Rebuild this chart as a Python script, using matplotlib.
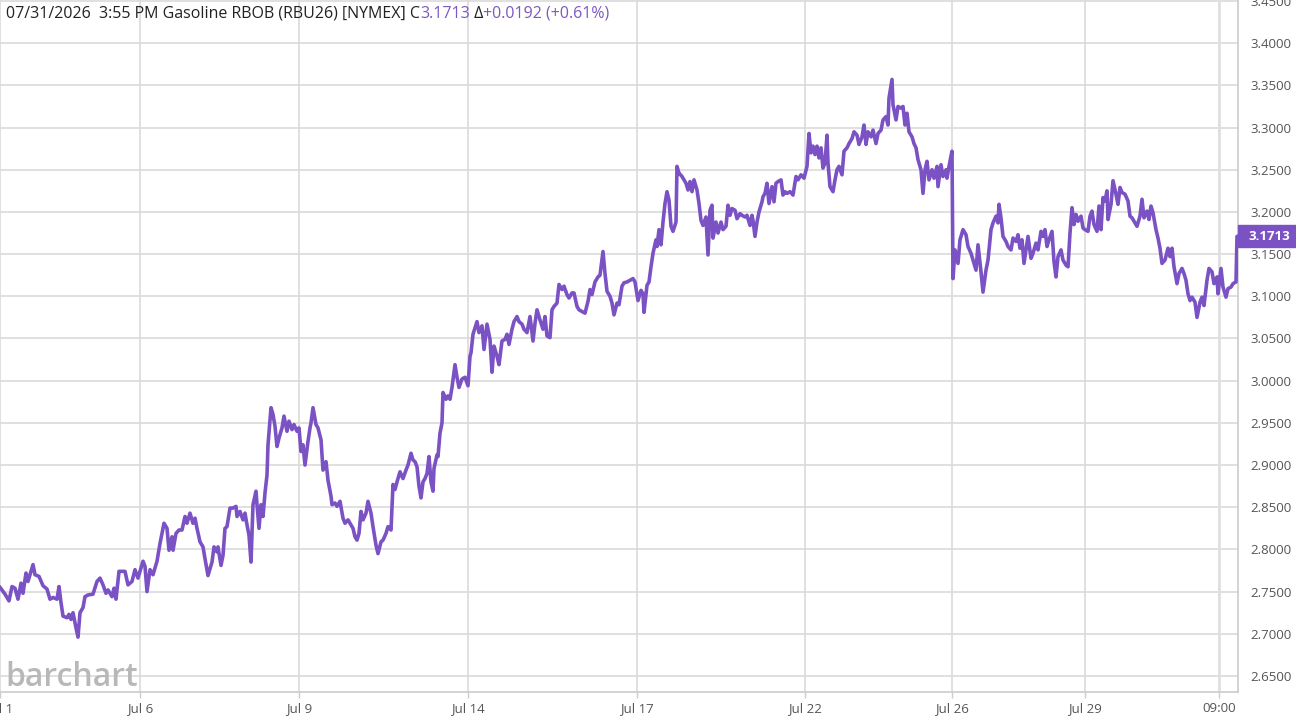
# Gasoline RBOB (RBU26) intraday chart, barchart style

import numpy as np
import matplotlib
matplotlib.use("Agg")
import matplotlib.pyplot as plt
from matplotlib.patches import Rectangle
from matplotlib.transforms import blended_transform_factory


# -------------------------------
# Data
# -------------------------------

# bar index on a compressed session axis (gaps removed, as barchart does)
bar = [
    0, 5, 9, 12, 15, 18, 21, 23, 26, 28, 33, 35, 39, 43, 47, 50, 53, 57, 59, 61,
    63, 67, 69, 71, 73, 76, 78, 80, 83, 85, 88, 93, 97, 100, 103, 106, 108, 112, 114, 116,
    119, 122, 125, 128, 132, 135, 138, 143, 145, 147, 150, 153, 157, 160,
    161, 164, 167, 169, 172, 173, 176, 179, 182, 185, 187, 190, 193, 195, 197, 200,
    203, 205, 208, 212, 214, 217, 218, 221, 223, 225, 227, 230, 233, 236, 237, 240,
    243, 245, 247, 249, 251, 253, 256, 257, 259, 261, 263, 265, 267, 268, 271, 273,
    275, 277, 279, 282, 284, 287, 289, 292, 294, 297, 299, 301, 303, 305, 308, 310,
    311, 313, 316, 318, 321, 323, 326, 328, 331, 332, 335, 337, 340, 343, 345, 348,
    350, 353, 355, 357, 359, 361, 363, 366, 368, 371, 373, 376, 378, 381, 383, 386,
    388, 391, 393, 395, 397, 400, 403, 406, 408, 411, 413, 415, 417, 419, 421, 423,
    425, 427, 429, 431, 433, 434, 437, 438, 440, 442, 443, 446, 448, 450, 452, 455,
    457, 459, 462, 465, 468, 470,
    471, 473, 477, 479, 482, 484, 487, 490, 492, 494, 497, 499, 502, 505, 507, 509,
    512, 514, 517, 519, 522, 524, 527, 530, 533, 535, 537, 540, 543, 545, 547, 550,
    552, 554, 557, 559, 562, 564, 567, 569, 572, 574, 577, 579, 582, 585, 588, 590,
    592, 595, 598, 600, 603, 605, 607, 610, 612, 614, 617, 619, 622, 624, 627, 630,
    633, 635,
    638, 641, 643, 644, 647, 649, 651, 653, 656, 657, 659, 661, 663, 665, 667, 669,
    671, 673, 676, 677, 679, 682, 684, 686, 688, 690, 692, 694, 697, 699, 701, 703,
    706, 708, 710, 712, 713, 716, 718, 721, 723, 726, 728, 730, 732, 735, 737, 740,
    742, 745, 747, 750, 752, 753, 755, 757, 759, 762, 763, 765, 767, 769, 772, 774,
    776, 778, 781, 783, 785, 787, 790,
    793, 796, 798, 801, 804, 807, 809, 811, 813, 815, 817, 819, 821, 823, 825, 827,
    828, 830, 833, 835, 837, 839, 842, 844, 847, 849, 852, 854, 857, 859, 862, 864,
    866, 868, 871, 873, 876, 878, 881, 883, 886, 888, 889, 892, 893, 896, 898, 901,
    903, 905, 907, 909, 912, 914, 916, 918, 921, 923, 925, 927, 929, 932, 934, 937,
    938, 941, 943, 946, 947, 949, 952, 953,
    955, 958, 960, 963, 966, 968, 971, 973, 976, 978, 981, 983, 986, 988, 991, 993,
    996, 998, 999, 1001, 1003, 1006, 1008, 1011, 1013, 1016, 1018, 1020, 1022, 1024, 1027, 1028,
    1031, 1033, 1036, 1038, 1041, 1043, 1045, 1047, 1049, 1052, 1054, 1056, 1058, 1061, 1063, 1066,
    1068, 1070, 1072, 1074, 1076, 1078, 1081, 1083,
    1085, 1088, 1090, 1092, 1094, 1097, 1099, 1101, 1103, 1105, 1107, 1108, 1111, 1113, 1116, 1118,
    1120, 1122, 1125, 1128, 1130, 1132, 1135, 1137, 1140, 1142, 1144, 1147, 1149, 1151, 1153, 1156,
    1158, 1160, 1162, 1165, 1168, 1170, 1172, 1174, 1177, 1179, 1182, 1184, 1186, 1188, 1190, 1192,
    1195, 1197, 1200, 1202, 1204, 1207, 1209, 1212, 1214, 1217, 1218, 1221, 1223, 1226, 1228, 1231,
    1233, 1236, 1237, 1238,
]

price = [
    2.755, 2.747, 2.739, 2.756, 2.754, 2.741, 2.760, 2.748, 2.772, 2.762, 2.782, 2.770, 2.768, 2.757, 2.753, 2.741, 2.743, 2.741, 2.756, 2.737,
    2.721, 2.719, 2.723, 2.717, 2.725, 2.707, 2.696, 2.725, 2.731, 2.744, 2.746, 2.747, 2.762, 2.766, 2.758, 2.748, 2.752, 2.744, 2.754, 2.741,
    2.774, 2.774, 2.774, 2.758, 2.762, 2.776, 2.766, 2.786, 2.780, 2.750, 2.776, 2.770, 2.786, 2.807,
    2.813, 2.831, 2.825, 2.799, 2.815, 2.799, 2.819, 2.823, 2.823, 2.839, 2.831, 2.843, 2.831, 2.837, 2.825, 2.809,
    2.803, 2.789, 2.769, 2.785, 2.803, 2.797, 2.803, 2.781, 2.793, 2.825, 2.827, 2.849, 2.849, 2.851, 2.839, 2.845,
    2.835, 2.843, 2.829, 2.817, 2.785, 2.853, 2.869, 2.853, 2.825, 2.853, 2.839, 2.867, 2.888, 2.924, 2.968, 2.960,
    2.946, 2.922, 2.932, 2.944, 2.958, 2.940, 2.952, 2.942, 2.948, 2.940, 2.944, 2.916, 2.924, 2.900, 2.928, 2.944,
    2.950, 2.968, 2.948, 2.944, 2.930, 2.894, 2.904, 2.882, 2.863, 2.853, 2.855, 2.851, 2.857, 2.837, 2.831, 2.835,
    2.831, 2.825, 2.815, 2.811, 2.819, 2.845, 2.835, 2.843, 2.857, 2.843, 2.827, 2.805, 2.795, 2.809, 2.811, 2.819,
    2.827, 2.823, 2.877, 2.871, 2.880, 2.892, 2.884, 2.894, 2.900, 2.914, 2.906, 2.904, 2.898, 2.875, 2.861, 2.880,
    2.884, 2.890, 2.910, 2.880, 2.869, 2.896, 2.912, 2.910, 2.938, 2.950, 2.986, 2.978, 2.982, 2.978, 2.992, 3.019,
    3.004, 2.992, 3.002, 3.004, 2.994, 3.029,
    3.033, 3.055, 3.070, 3.057, 3.065, 3.037, 3.067, 3.049, 3.010, 3.041, 3.029, 3.019, 3.047, 3.049, 3.055, 3.043,
    3.061, 3.070, 3.076, 3.070, 3.067, 3.061, 3.057, 3.076, 3.047, 3.068, 3.084, 3.072, 3.061, 3.076, 3.053, 3.051,
    3.084, 3.088, 3.092, 3.114, 3.108, 3.112, 3.102, 3.098, 3.104, 3.104, 3.088, 3.084, 3.082, 3.080, 3.094, 3.108,
    3.102, 3.117, 3.123, 3.125, 3.153, 3.127, 3.106, 3.100, 3.092, 3.078, 3.092, 3.090, 3.112, 3.116, 3.117, 3.119,
    3.121, 3.117,
    3.095, 3.107, 3.103, 3.081, 3.113, 3.117, 3.135, 3.151, 3.167, 3.159, 3.179, 3.161, 3.188, 3.210, 3.224, 3.214,
    3.183, 3.177, 3.188, 3.254, 3.246, 3.242, 3.238, 3.234, 3.226, 3.236, 3.224, 3.238, 3.226, 3.210, 3.190, 3.184,
    3.194, 3.149, 3.202, 3.208, 3.169, 3.188, 3.175, 3.188, 3.179, 3.183, 3.208, 3.196, 3.204, 3.202, 3.192, 3.198,
    3.196, 3.194, 3.196, 3.184, 3.196, 3.190, 3.171, 3.188, 3.200, 3.212, 3.218, 3.222, 3.234, 3.210, 3.230, 3.212,
    3.234, 3.236, 3.238, 3.220, 3.224, 3.222, 3.224,
    3.220, 3.242, 3.238, 3.244, 3.240, 3.254, 3.293, 3.270, 3.278, 3.268, 3.278, 3.264, 3.276, 3.252, 3.258, 3.291,
    3.258, 3.230, 3.224, 3.238, 3.250, 3.254, 3.244, 3.272, 3.276, 3.281, 3.287, 3.295, 3.291, 3.280, 3.289, 3.303,
    3.280, 3.295, 3.289, 3.297, 3.281, 3.293, 3.297, 3.309, 3.313, 3.303, 3.335, 3.357, 3.327, 3.309, 3.325, 3.323,
    3.325, 3.303, 3.317, 3.295, 3.289, 3.281, 3.276, 3.262, 3.250, 3.222, 3.250, 3.260, 3.238, 3.250, 3.240, 3.254,
    3.230, 3.256, 3.242, 3.250, 3.240, 3.254, 3.272, 3.121,
    3.155, 3.139, 3.167, 3.179, 3.173, 3.159, 3.151, 3.143, 3.131, 3.161, 3.129, 3.105, 3.131, 3.143, 3.179, 3.187,
    3.195, 3.187, 3.209, 3.193, 3.171, 3.165, 3.159, 3.155, 3.169, 3.165, 3.173, 3.157, 3.167, 3.139, 3.163, 3.171,
    3.145, 3.151, 3.163, 3.155, 3.177, 3.171, 3.179, 3.159, 3.167, 3.177, 3.141, 3.123, 3.147, 3.155, 3.143, 3.137,
    3.135, 3.175, 3.205, 3.185, 3.197, 3.189, 3.195, 3.181,
    3.179, 3.177, 3.195, 3.201, 3.185, 3.177, 3.207, 3.179, 3.217, 3.213, 3.225, 3.191, 3.209, 3.237, 3.221, 3.209,
    3.229, 3.223, 3.221, 3.213, 3.195, 3.193, 3.187, 3.183, 3.195, 3.215, 3.193, 3.201, 3.191, 3.207, 3.199, 3.179,
    3.169, 3.157, 3.139, 3.143, 3.157, 3.147, 3.157, 3.135, 3.115, 3.127, 3.133, 3.127, 3.119, 3.103, 3.095, 3.099,
    3.093, 3.075, 3.093, 3.099, 3.089, 3.119, 3.133, 3.129, 3.115, 3.123, 3.103, 3.133, 3.111, 3.099, 3.109, 3.111,
    3.115, 3.117, 3.171, 3.1713,
]

tick_bars = [0, 140, 299, 468, 637, 805, 952, 1085, 1219]
tick_labels = ["Jul 1", "Jul 6", "Jul 9", "Jul 14", "Jul 17", "Jul 22", "Jul 26", "Jul 29", "09:00"]

y_ticks = np.arange(2.65, 3.451, 0.05)

last_price = 3.1713
title_parts = [
    ("07/31/2026  3:55 PM Gasoline RBOB (RBU26) [NYMEX] C", "#222222"),
    ("3.1713", "#7e57c2"),
    (" Δ", "#222222"),
    ("+0.0192 (+0.61%)", "#7e57c2"),
]

# -------------------------------
# Style
# -------------------------------

plt.rcParams["font.family"] = ["Open Sans", "DejaVu Sans"]
LINE = "#7b52c4"
GRID = "#dadada"
LABEL = "#555555"

fig = plt.figure(figsize=(12.96, 7.21), dpi=100)
ax = fig.add_axes([0, 29 / 721, 1238 / 1296, 692 / 721])

ax.plot(bar, price, color=LINE, lw=2.6, solid_joinstyle="round", zorder=3)

ax.set_xlim(0, 1238)
ax.set_ylim(2.6310, 3.4512)

ax.set_xticks(tick_bars)
ax.set_xticklabels(tick_labels)
ax.set_yticks(y_ticks)
ax.set_yticklabels([f"{v:.4f}" for v in y_ticks])
ax.yaxis.tick_right()

ax.grid(True, color=GRID, lw=1.2)
ax.set_axisbelow(True)
ax.axvline(tick_bars[-1], color="#e0e0e0", lw=2.0, zorder=1)

for side in ["top", "left"]:
    ax.spines[side].set_visible(False)
for side in ["bottom", "right"]:
    ax.spines[side].set_color("#cccccc")
    ax.spines[side].set_linewidth(1.2)

ax.tick_params(axis="x", length=4, color="#cccccc", width=1, pad=3,
               labelsize=9.5, labelcolor=LABEL)
ax.tick_params(axis="y", length=0, pad=9, labelsize=9.5, labelcolor=LABEL)

# last price tag on the right axis
tr = blended_transform_factory(ax.transAxes, ax.transData)
ax.add_patch(Rectangle((1.0, last_price - 0.013), 58 / 1238, 0.026,
                       transform=tr, color=LINE, clip_on=False, zorder=5))
ax.text(1.0 + 31 / 1238, last_price, f"{last_price:.4f}", transform=tr,
        color="white", fontsize=9.5, fontweight="bold",
        ha="center", va="center", zorder=6)

# watermark
fig.text(5 / 1296, (721 - 686) / 721, "barchart", fontsize=23,
         fontweight="semibold", color="#b8b8b8", va="baseline", ha="left")

# header line built from coloured pieces
renderer = fig.canvas.get_renderer()
x_pos = 6
for txt, col in title_parts:
    t = fig.text(x_pos / 1296, 1 - 14 / 721, txt, fontsize=11.5, color=col,
                 va="center", ha="left")
    bb = t.get_window_extent(renderer=renderer)
    x_pos = bb.x1

fig.savefig("out.png", dpi=100)
